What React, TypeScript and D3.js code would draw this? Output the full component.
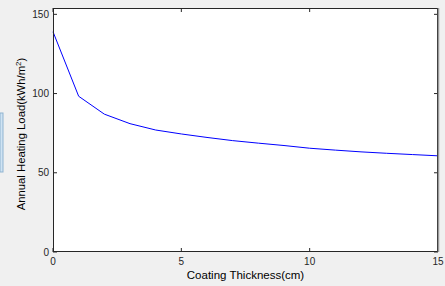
import React from "react";
import * as d3 from "d3";

const thickness = [0, 1, 2, 3, 4, 5, 6, 7, 8, 9, 10, 11, 12, 13, 14, 15];
const heatingLoad = [139, 98.3, 87, 81, 77, 74.5, 72.3, 70.3, 68.7, 67.2, 65.5, 64.3, 63.2, 62.3, 61.5, 60.7];
const xTicks = [0, 5, 10, 15];
const yTicks = [0, 50, 100, 150];

const W = 445;
const H = 286;
const M = { left: 53, right: 7, top: 8, bottom: 34 };

export default function App() {
  const x = d3.scaleLinear().domain([0, 15]).range([M.left, W - M.right]);
  const y = d3.scaleLinear().domain([0, 154]).range([H - M.bottom, M.top]);
  const line = d3
    .line<number>()
    .x((_, i) => x(thickness[i]))
    .y((d) => y(d));
  const font = "'Liberation Sans', Arial, sans-serif";
  const x0 = M.left;
  const x1 = W - M.right;
  const y0 = H - M.bottom;
  const y1 = M.top;
  const tl = 4;
  return (
    <svg
      width={W}
      height={H}
      style={{ position: "absolute", left: 0, top: 0, display: "block" }}
    >
      <rect x={0} y={0} width={W} height={H} fill="#f0f0f0" />
      <rect x={0} y={113} width={3} height={59} fill="#cfe3f3" stroke="#8fb3d0" strokeWidth={1} />
      <rect x={x0} y={y1} width={x1 - x0} height={y0 - y1} fill="#ffffff" />
      <path d={line(heatingLoad) || ""} fill="none" stroke="#0000ff" strokeWidth={1} />
      {xTicks.map((t) => (
        <g key={"x" + t}>
          <line x1={x(t)} x2={x(t)} y1={y0} y2={y0 - tl} stroke="#262626" />
          <line x1={x(t)} x2={x(t)} y1={y1} y2={y1 + tl} stroke="#262626" />
          <text
            x={x(t)}
            y={y0 + 13}
            textAnchor="middle"
            fontFamily={font}
            fontSize={10}
            fill="#262626"
          >
            {t}
          </text>
        </g>
      ))}
      {yTicks.map((t) => (
        <g key={"y" + t}>
          <line x1={x0} x2={x0 + tl} y1={y(t)} y2={y(t)} stroke="#262626" />
          <line x1={x1} x2={x1 - tl} y1={y(t)} y2={y(t)} stroke="#262626" />
          <text
            x={x0 - 4}
            y={y(t) + 3.5}
            textAnchor="end"
            fontFamily={font}
            fontSize={10}
            fill="#262626"
          >
            {t}
          </text>
        </g>
      ))}
      <rect
        x={x0 + 0.5}
        y={y1 + 0.5}
        width={x1 - x0 - 1}
        height={y0 - y1 - 1}
        fill="none"
        stroke="#262626"
        strokeWidth={1}
      />
      <line x1={x1 + 0.5} x2={x1 + 0.5} y1={y1} y2={y0} stroke="#9a9a9a" strokeWidth={1.5} />
      <text
        x={(x0 + x1) / 2}
        y={279}
        textAnchor="middle"
        fontFamily={font}
        fontSize={11.5}
        fill="#000"
      >
        Coating Thickness(cm)
      </text>
      <text
        transform={`translate(25,${134}) rotate(-90)`}
        textAnchor="middle"
        fontFamily={font}
        fontSize={11.3}
        fill="#000"
      >
        Annual Heating Load(kWh/m
        <tspan fontSize={8} dy={-4}>2</tspan>
        <tspan dy={4}>)</tspan>
      </text>
    </svg>
  );
}
